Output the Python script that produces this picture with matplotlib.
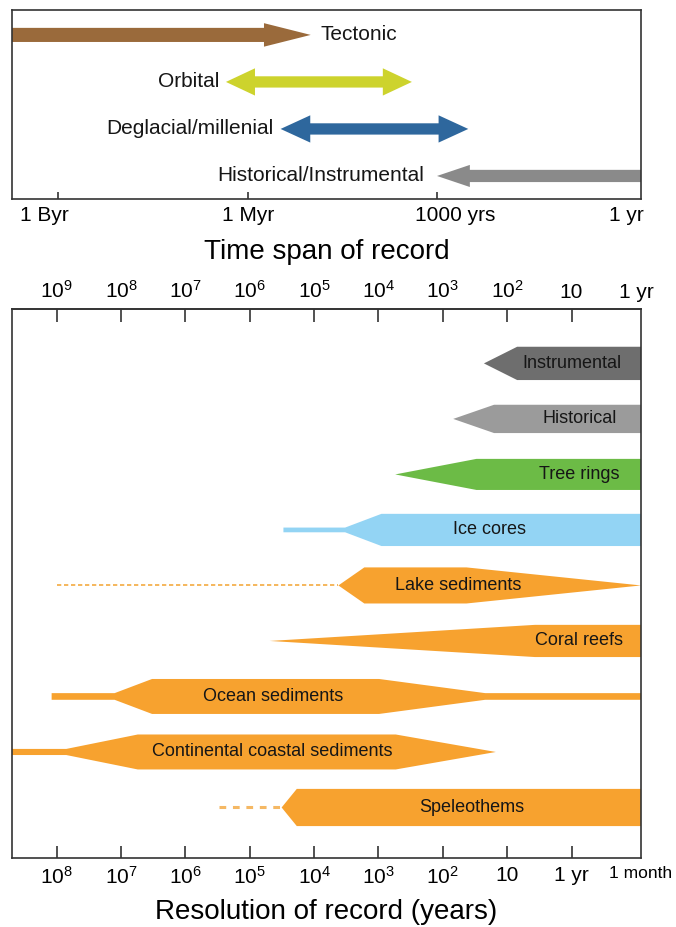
import numpy as np
import matplotlib
matplotlib.use("Agg")
import matplotlib.pyplot as plt
from matplotlib.patches import Polygon
from matplotlib.ticker import NullLocator
from matplotlib.transforms import ScaledTranslation

plt.rcParams['font.family'] = ['Liberation Sans', 'DejaVu Sans']
plt.rcParams['text.color'] = '#161616'

MONTH = 1 / 12

# ---- time span of record (years) ----
span_names = ['Tectonic', 'Orbital', 'Deglacial/millenial', 'Historical/Instrumental']
span_long = [1e10, 2.2e6, 3.0e5, 1.0e3]     # 1e10: runs off the left edge
span_short = [1.0e5, 2.5e3, 320, 0.3]        # 0.3: runs off the right edge
span_heads = ['short', 'both', 'both', 'long']
span_colors = ['#9a6a3b', '#cdd32d', '#2e679d', '#8a8a8a']

# ---- resolution of record (years) ----
rec_names = ['Instrumental', 'Historical', 'Tree rings', 'Ice cores', 'Lake sediments',
             'Coral reefs', 'Ocean sediments', 'Continental coastal sediments', 'Speleothems']
tail_coarse = [np.nan, np.nan, np.nan, 3.0e4, np.nan, np.nan, 1.2e8, 1e10, np.nan]
taper_coarse = [23, 69, 550, 3300, 4200, 4.9e4, 1.26e7, 7.1e7, 3.2e4]
full_coarse = [7, 16, 30, 900, 1660, 3.7, 3.3e6, 5.5e6, 1.86e4]
full_fine = [0.05, 0.05, 0.05, 0.05, 43, 0.05, 980, 540, 0.05]
taper_fine = [0.05, 0.05, 0.05, 0.05, MONTH, 0.05, 22, 15, 0.05]
tail_fine = [np.nan, np.nan, np.nan, np.nan, np.nan, np.nan, 0.05, np.nan, np.nan]
dashed_from = [np.nan, np.nan, np.nan, np.nan, 1e8, np.nan, np.nan, np.nan, 3.0e5]

rec_colors = ['#6e6e6e', '#9b9b9b', '#6cbb46', '#93d4f4'] + ['#f7a22f'] * 5
rec_height = [0.60, 0.51, 0.56, 0.58, 0.65, 0.58, 0.63, 0.63, 0.67]
tail_width = [0, 0, 0, 0.085, 0, 0, 0.12, 0.11, 0]
label_at = [1.0, 0.76, 0.76, 18.6, 57, 0.76, 4.4e4, 4.4e4, 36]

top_ticks = [1e9, 1e6, 1e3, 1]
top_labels = ['1 Byr', '1 Myr', '1000 yrs', '1 yr']
top_label_shift = [-14, 1, 18, 0]   # px, hand-placed label offsets
res_ticks = [1e8, 1e7, 1e6, 1e5, 1e4, 1e3, 1e2, 10, 1, MONTH]
res_labels = [r'$\mathregular{10^{%d}}$' % k for k in range(8, 1, -1)] + ['10', '1 yr', '1 month']
per_ticks = [1e9, 1e8, 1e7, 1e6, 1e5, 1e4, 1e3, 1e2, 10, 1]
per_labels = [r'$\mathregular{10^{%d}}$' % k for k in range(9, 1, -1)] + ['10', '1 yr']

SPINE = '#333333'


def arrow_poly(x0, x1, y, shaft, head, hlen, heads):
    """Arrow between x0 (coarse) and x1 (fine) built in log10 space."""
    a, b = np.log10(x0), np.log10(x1)
    pts = []
    if heads in ('long', 'both'):
        pts += [(a, y), (a - hlen, y - head), (a - hlen, y - shaft)]
    else:
        pts += [(a, y - shaft)]
    if heads in ('short', 'both'):
        pts += [(b + hlen, y - shaft), (b + hlen, y - head), (b, y),
                (b + hlen, y + head), (b + hlen, y + shaft)]
    else:
        pts += [(b, y - shaft), (b, y + shaft)]
    if heads in ('long', 'both'):
        pts += [(a - hlen, y + shaft), (a - hlen, y + head)]
    else:
        pts += [(a, y + shaft)]
    pts = np.array(pts)
    pts[:, 0] = 10 ** pts[:, 0]
    return pts


def body_poly(i, y):
    h = rec_height[i] / 2
    t = tail_width[i] / 2
    top = []
    if np.isnan(tail_coarse[i]):
        top.append((taper_coarse[i], y))
    else:
        top += [(tail_coarse[i], y - t), (taper_coarse[i], y - t)]
    top += [(full_coarse[i], y - h), (full_fine[i], y - h)]
    if np.isnan(tail_fine[i]):
        top.append((taper_fine[i], y - (0 if taper_fine[i] != full_fine[i] else h)))
    else:
        top += [(taper_fine[i], y - t), (tail_fine[i], y - t)]
    bottom = [(x, 2 * y - yy) for x, yy in reversed(top)]
    return np.array(top + bottom)


fig = plt.figure(figsize=(6.76, 9.27), dpi=100)
ax1 = fig.add_axes([12 / 676, 1 - 199 / 927, 629 / 676, 189 / 927])
ax2 = fig.add_axes([12 / 676, 1 - 858 / 927, 629 / 676, 549 / 927])

for ax in (ax1, ax2):
    ax.set_xscale('log')
    ax.set_yticks([])
    ax.xaxis.set_minor_locator(NullLocator())
    for s in ax.spines.values():
        s.set_color(SPINE)
        s.set_linewidth(1.2)

# top panel: time span arrows
ax1.set_xlim(10 ** 9.73, 10 ** -0.23)
ax1.set_ylim(3.49, -0.53)
shafts = [0.15, 0.12, 0.12, 0.13]
heads = [0.25, 0.29, 0.29, 0.235]
hlens = [0.74, 0.46, 0.47, 0.52]
gaps = [7, 5, 5, 9]
for i, name in enumerate(span_names):
    pts = arrow_poly(span_long[i], span_short[i], i, shafts[i], heads[i], hlens[i], span_heads[i])
    ax1.add_patch(Polygon(pts, closed=True, facecolor=span_colors[i], edgecolor='none'))
    if span_heads[i] == 'short':
        ax1.annotate(name, (span_short[i], i), xytext=(gaps[i], 0), textcoords='offset points',
                     ha='left', va='center', fontsize=15)
    else:
        ax1.annotate(name, (span_long[i], i), xytext=(-gaps[i], 0), textcoords='offset points',
                     ha='right', va='center', fontsize=15)

ax1.set_xticks(top_ticks)
ax1.set_xticklabels(top_labels)
ax1.tick_params(axis='x', direction='in', length=5, width=1.2, color=SPINE, pad=5, labelsize=15)
ax1.xaxis.get_major_ticks()[-1].tick1line.set_visible(False)
for lab, dx in zip(ax1.get_xticklabels(), top_label_shift):
    lab.set_transform(lab.get_transform() + ScaledTranslation(dx / 100, 0, fig.dpi_scale_trans))
ax1.set_xlabel('Time span of record', fontsize=20, labelpad=10)

# bottom panel: resolution bands
ax2.set_xlim(10 ** 8.695, MONTH)
ax2.set_ylim(8.91, -0.98)
for i, name in enumerate(rec_names):
    if not np.isnan(dashed_from[i]):
        if i == 4:
            ax2.plot([dashed_from[i], taper_coarse[i]], [i, i], color='#f5b75c',
                     lw=1.4, dashes=(2.2, 1.4), solid_capstyle='butt')
        else:
            ax2.plot([dashed_from[i], taper_coarse[i]], [i, i], color='#f5b864',
                     lw=2.2, dashes=(2.2, 2.2), solid_capstyle='butt')
    ax2.add_patch(Polygon(body_poly(i, i), closed=True, facecolor=rec_colors[i], edgecolor='none'))
    ax2.text(label_at[i], i, name, ha='center', va='center', fontsize=13)

ax2.set_xticks(res_ticks)
ax2.set_xticklabels(res_labels)
ax2.tick_params(axis='x', direction='in', length=9, width=1.2, color=SPINE, pad=6, labelsize=15)
ax2.xaxis.get_major_ticks()[-1].tick1line.set_visible(False)
ax2.get_xticklabels()[-1].set_fontsize(12.5)
ax2.set_xlabel('Resolution of record (years)', fontsize=20, labelpad=8)

sec = ax2.secondary_xaxis('top', functions=(lambda x: x * 10, lambda x: x / 10))
sec.set_xticks(per_ticks)
sec.set_xticklabels(per_labels)
sec.xaxis.set_minor_locator(NullLocator())
sec.tick_params(axis='x', direction='in', length=9, width=1.2, color=SPINE, pad=5, labelsize=15)
sec.xaxis.get_major_ticks()[-1].tick2line.set_visible(False)
sec.spines['top'].set_color(SPINE)
sec.spines['top'].set_linewidth(1.2)

fig.savefig('out.png', dpi=100)
